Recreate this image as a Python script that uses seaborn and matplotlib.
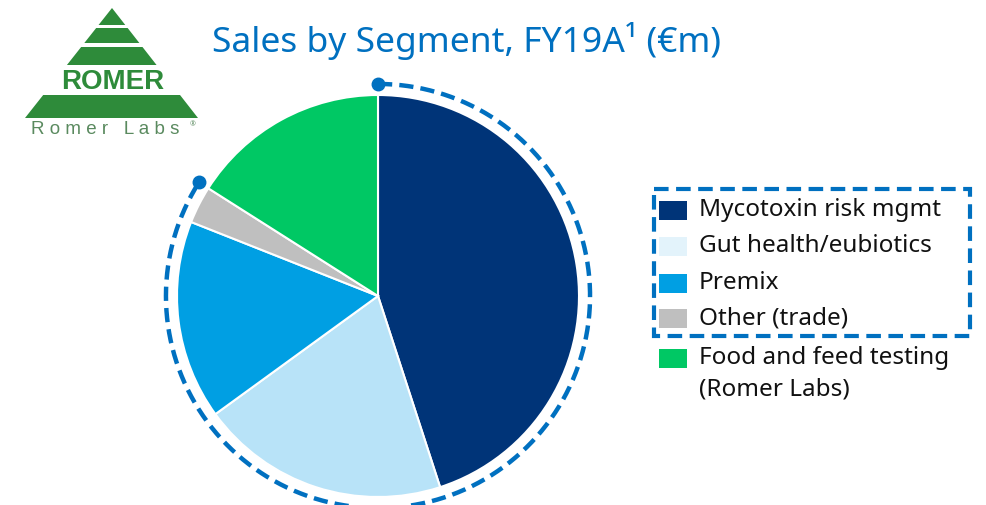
import numpy as np
import matplotlib.pyplot as plt
import seaborn as sns
from matplotlib.patches import Polygon, Rectangle

sns.set_theme(style="white")
plt.rcParams['font.family'] = ['Noto Sans', 'DejaVu Sans']

# share of FY19A sales by segment (%)
segments = ['Mycotoxin risk mgmt', 'Gut health/eubiotics', 'Premix', 'Other (trade)',
            'Food and feed testing\n(Romer Labs)']
shares = [45, 20, 16, 3, 16]
wedge_colors = ['#003478', '#B8E3F8', '#009FE3', '#BFBFBF', '#00C864']
legend_colors = ['#003478', '#E3F3FB', '#009FE3', '#BFBFBF', '#00C864']
n_boxed = 4  # segments inside the dashed bracket

blue = '#0070C0'
W, H = 987, 505
fig = plt.figure(figsize=(W / 100, H / 100), dpi=100)

# overlay axes in pixel units for logo / legend
ov = fig.add_axes([0, 0, 1, 1])
ov.set_xlim(0, W)
ov.set_ylim(H, 0)
ov.axis('off')

# pie, centre (378, 296), radius 201 px
cx, cy, r = 378, 296, 201
half = r * 1.1
ax = fig.add_axes([(cx - half) / W, (H - cy - half) / H, 2 * half / W, 2 * half / H])
ax.pie(shares, colors=wedge_colors, startangle=90, counterclock=False, radius=1,
       wedgeprops=dict(edgecolor='white', linewidth=1.5))
ax.set_xlim(-1.1, 1.1)
ax.set_ylim(-1.1, 1.1)
ax.set_aspect('equal')
ax.axis('off')

# dashed bracket arc around the first four segments
end = sum(shares[:n_boxed]) / sum(shares) * 360
theta = np.radians(90 - np.linspace(0, end, 300))
ra = 1.055
ax.plot(ra * np.cos(theta), ra * np.sin(theta), color=blue, lw=3.2,
        dashes=(3.2, 1.6), solid_capstyle='butt', clip_on=False)
ax.plot([ra * np.cos(theta[0]), ra * np.cos(theta[-1])],
        [ra * np.sin(theta[0]), ra * np.sin(theta[-1])], 'o', color=blue, ms=9,
        clip_on=False)

# title
ov.text(466, 41, 'Sales by Segment, FY19A¹ (€m)', color=blue, fontsize=25.5,
        ha='center', va='center')

# legend
rows = [210, 246, 283, 318, 358]
for lab, col, y in zip(segments, legend_colors, rows):
    ov.add_patch(Rectangle((659, y - 9), 28, 19, facecolor=col, edgecolor='none'))
    ov.text(699, y - 12, lab, fontsize=17.5, va='top', ha='left', color='#111111',
            linespacing=1.4)
ov.add_patch(Rectangle((654, 189), 316, 147, fill=False, edgecolor=blue, lw=3,
                       linestyle=(0, (3.5, 1.8))))

# logo
green = '#2E8B3A'
apex, base_y, bl, br = (112, 8), 118, 25, 198


def tri_x(y):
    t = (y - apex[1]) / (base_y - apex[1])
    return apex[0] + (bl - apex[0]) * t, apex[0] + (br - apex[0]) * t


for y0, y1 in [(8, 25), (28, 43), (47, 65), (95, 118)]:
    l0, r0 = tri_x(y0)
    l1, r1 = tri_x(y1)
    ov.add_patch(Polygon([(l0, y0), (r0, y0), (r1, y1), (l1, y1)], color=green, lw=0))
ov.text(113, 82, 'ROMER', color=green, fontsize=20, fontweight='bold',
        ha='center', va='center', family=['Liberation Sans', 'DejaVu Sans'])
ov.text(105, 130, 'R o m e r   L a b s', color='#5A8A5F', fontsize=13.5,
        ha='center', va='center', family=['Liberation Sans', 'DejaVu Sans'])
ov.text(193, 125, '®', color='#5A8A5F', fontsize=5, ha='center', va='center')

fig.savefig('out.png', dpi=100, facecolor='white')
